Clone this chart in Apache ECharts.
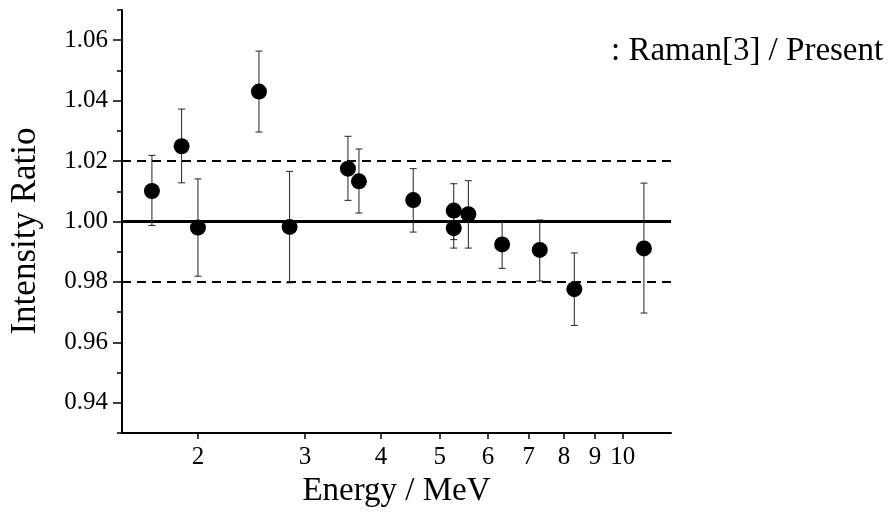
<!DOCTYPE html>
<html>
<head>
<meta charset="utf-8">
<script src="https://cdn.jsdelivr.net/npm/echarts@6/dist/echarts.min.js"></script>
<style>
  html, body { margin: 0; padding: 0; background: #fff; }
  #chart { width: 890px; height: 513px; }
</style>
</head>
<body>
<div id="chart"></div>
<script>
var energy = [1.68, 1.88, 2.00, 2.52, 2.83, 3.53, 3.68, 4.52, 5.27, 5.27, 5.57, 6.33, 7.30, 8.32, 10.83];
var ratio = [1.0101, 1.0249, 0.9980, 1.0430, 0.9982, 1.0175, 1.0133, 1.0071, 1.0036, 0.9978, 1.0024, 0.9924, 0.9906, 0.9776, 0.9911];
var errLow = [0.9987, 1.0128, 0.9819, 1.0296, 0.9797, 1.0070, 1.0028, 0.9965, 0.9940, 0.9912, 0.9912, 0.9845, 0.9803, 0.9656, 0.9697];
var errHigh = [1.0219, 1.0372, 1.0141, 1.0564, 1.0166, 1.0282, 1.0240, 1.0175, 1.0125, 1.0045, 1.0135, 1.0002, 1.0005, 0.9896, 1.0127];

var xTicks = [2, 3, 4, 5, 6, 7, 8, 9, 10];
var yMajor = [0.94, 0.96, 0.98, 1.00, 1.02, 1.04, 1.06];
var yMinor = [0.93, 0.95, 0.97, 0.99, 1.01, 1.03, 1.05, 1.07];
var refSolid = 1.00;
var refDashed = [1.02, 0.98];

var font = "'Liberation Serif', 'Times New Roman', serif";

var points = energy.map(function (e, i) { return [e, ratio[i]]; });
var bars = energy.map(function (e, i) { return [e, errLow[i], errHigh[i]]; });

function renderBar(params, api) {
    var lo = api.coord([api.value(0), api.value(1)]);
    var hi = api.coord([api.value(0), api.value(2)]);
    var cap = 3.5;
    var style = { stroke: "#222", lineWidth: 1 };
    return {
        type: "group",
        children: [
            { type: "line", shape: { x1: lo[0], y1: lo[1], x2: hi[0], y2: hi[1] }, style: style },
            { type: "line", shape: { x1: lo[0] - cap, y1: lo[1], x2: lo[0] + cap, y2: lo[1] }, style: style },
            { type: "line", shape: { x1: hi[0] - cap, y1: hi[1], x2: hi[0] + cap, y2: hi[1] }, style: style },
        ],
    };
}

var option = {
    animation: false,
    grid: {
        left: 122,
        right: 219,
        top: 10,
        bottom: 80,
    },
    graphic: [
        {
            type: "text",
            left: 611,
            top: 35,
            style: {
                text: ": Raman[3] / Present",
                font: "33px " + font,
                fill: "#000",
            },
        },
        {
            // y title sits a little below the grid centre in the original
            type: "text",
            x: 26,
            y: 231,
            rotation: Math.PI / 2,
            style: {
                text: "Intensity Ratio",
                font: "35px " + font,
                fill: "#000",
                align: "center",
                verticalAlign: "middle",
            },
        },
    ],
    xAxis: {
        type: "log",
        min: 1.5,
        max: 12,
        name: "Energy / MeV",
        nameLocation: "middle",
        nameGap: 42,
        nameTextStyle: { fontFamily: font, fontSize: 33, color: "#000" },
        axisLine: { lineStyle: { color: "#000", width: 2 } },
        axisTick: { customValues: xTicks, length: 6, lineStyle: { color: "#000", width: 1.5 } },
        axisLabel: {
            customValues: xTicks,
            margin: 12,
            fontFamily: font,
            fontSize: 25,
            color: "#000",
        },
        splitLine: { show: false },
        minorTick: { show: false },
    },
    yAxis: [
        {
            type: "value",
            min: 0.93,
            max: 1.07,
            axisLine: { show: true, lineStyle: { color: "#000", width: 2 } },
            axisTick: { customValues: yMajor, length: 9, lineStyle: { color: "#000", width: 1.5 } },
            axisLabel: {
                customValues: yMajor,
                margin: 14,
                fontFamily: font,
                fontSize: 25,
                color: "#000",
                formatter: function (v) { return v.toFixed(2); },
            },
            splitLine: { show: false },
        },
        {
            type: "value",
            min: 0.93,
            max: 1.07,
            position: "left",
            offset: 0,
            axisLine: { show: false },
            axisTick: { customValues: yMinor, length: 5, lineStyle: { color: "#000", width: 1.5 } },
            axisLabel: { show: false },
            splitLine: { show: false },
        },
    ],
    series: [
        {
            type: "custom",
            renderItem: renderBar,
            data: bars,
            encode: { x: 0, y: [1, 2] },
            silent: true,
            z: 2,
        },
        {
            type: "scatter",
            data: points,
            symbol: "circle",
            symbolSize: 16,
            itemStyle: { color: "#000", opacity: 1 },
            z: 3,
            markLine: {
                silent: true,
                symbol: "none",
                label: { show: false },
                data: [
                    { yAxis: refSolid, lineStyle: { type: "solid", width: 3, color: "#000" } },
                    { yAxis: refDashed[0], lineStyle: { type: [9, 6], width: 2, color: "#000" } },
                    { yAxis: refDashed[1], lineStyle: { type: [9, 6], width: 2, color: "#000" } },
                ],
            },
        },
    ],
};

var myChart = echarts.init(document.getElementById("chart"));
myChart.setOption(option);
</script>
</body>
</html>
